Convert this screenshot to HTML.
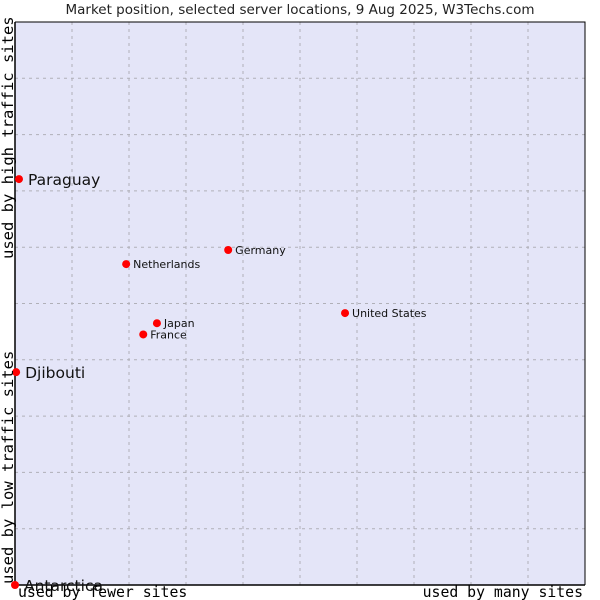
<!DOCTYPE html>
<html><head><meta charset="utf-8"><style>
body{margin:0;background:#fff;}
svg{display:block;font-family:"DejaVu Sans","Liberation Sans",sans-serif;}
</style></head><body>
<svg width="600" height="600">
<text x="300" y="14" text-anchor="middle" font-size="13.5" fill="#222">Market position, selected server locations, 9 Aug 2025, W3Techs.com</text>
<rect x="15" y="22" width="570" height="563" fill="#e4e5f8"/>
<g id="grid"></g>
<path d="M15 22 V585 H585" fill="none" stroke="#000" stroke-width="1.5"/>
<path d="M15 22 H585 V585" fill="none" stroke="#000" stroke-width="1"/>
<g id="pts"></g>
<text transform="translate(13,259) rotate(-90)" font-family="'DejaVu Sans Mono',monospace" font-size="15.5" fill="#000">used by high traffic sites</text>
<text transform="translate(13,584) rotate(-90)" font-family="'DejaVu Sans Mono',monospace" font-size="15.5" fill="#000">used by low traffic sites</text>
<text x="18" y="597" font-family="'DejaVu Sans Mono',monospace" font-size="14.8" fill="#000">used by fewer sites</text>
<text x="583" y="597" text-anchor="end" font-family="'DejaVu Sans Mono',monospace" font-size="14.8" fill="#000">used by many sites</text>
</svg>
<script>
const names=["Paraguay","Djibouti","Antarctica","Netherlands","Germany","Japan","France","United States"];
const xs=[0.7,0.2,0,19.5,37.4,24.9,22.5,57.9];
const ys=[72.1,37.8,0,57.0,59.5,46.5,44.5,48.3];
const big=[true,true,true,false,false,false,false,false];
const NS="http://www.w3.org/2000/svg";
const X=v=>15+v/100*570, Y=v=>585-v/100*563;
const g=document.getElementById('grid');
for(let i=1;i<10;i++){
 const l=document.createElementNS(NS,'line');
 l.setAttribute('x1',X(i*10));l.setAttribute('x2',X(i*10));l.setAttribute('y1',22);l.setAttribute('y2',585);
 l.setAttribute('stroke','#b0b0b8');l.setAttribute('stroke-dasharray','3,4');
 
 
 g.appendChild(l);
 const h=document.createElementNS(NS,'line');
 h.setAttribute('y1',Y(i*10));h.setAttribute('y2',Y(i*10));h.setAttribute('x1',15);h.setAttribute('x2',585);
 h.setAttribute('stroke','#b0b0b8');h.setAttribute('stroke-dasharray','3,4');
 
 
 g.appendChild(h);
}
const p=document.getElementById('pts');
names.forEach((n,i)=>{
 const cx=X(xs[i]),cy=Y(ys[i]);
 const d=document.createElementNS(NS,'circle');
 d.setAttribute('cx',cx);d.setAttribute('cy',cy);d.setAttribute('r',4);
 d.setAttribute('fill','#f00');
 
 
 p.appendChild(d);
 const t=document.createElementNS(NS,'text');
 t.setAttribute('x',cx+(big[i]?9:7));t.setAttribute('y',cy+(big[i]?6:4));
 t.setAttribute('font-size',big[i]?15.5:11);t.setAttribute('fill','#111');
 t.textContent=n;
 
 
 p.appendChild(t);
});
</script>
</body></html>
